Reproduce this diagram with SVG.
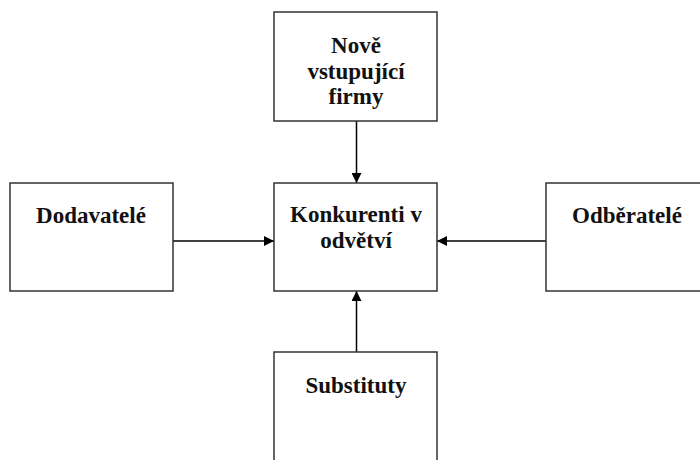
<svg xmlns="http://www.w3.org/2000/svg" width="700" height="460" viewBox="0 0 700 460">
<defs>
<style>
.box{fill:#fff;stroke:#333;stroke-width:1.5}
.t{font-family:"Liberation Serif","Times New Roman",serif;font-weight:bold;font-size:23px;fill:#111;text-anchor:middle}
.c{stroke:#000;stroke-width:1.5;fill:none;marker-end:url(#ah)}
</style>
<marker id="ah" viewBox="0 0 10 10" refX="10" refY="5" markerWidth="10" markerHeight="10" markerUnits="userSpaceOnUse" orient="auto">
<path d="M0,0 L10,5 L0,10 Z" fill="#000"/>
</marker>
</defs>
<rect width="700" height="460" fill="#fff"/>
<g id="connectors">
<line class="c" x1="356.5" y1="121" x2="356.5" y2="183"/>
<line class="c" x1="173" y1="241" x2="274" y2="241"/>
<line class="c" x1="546" y1="241" x2="437" y2="241"/>
<line class="c" x1="356.5" y1="352" x2="356.5" y2="291"/>
</g>
<g id="nove">
<rect class="box" x="274" y="12" width="163" height="109"/>
<text class="t" x="356" y="53">Nově</text>
<text class="t" x="356" y="79">vstupující</text>
<text class="t" x="356" y="104">firmy</text>
</g>
<g id="dodavatele">
<rect class="box" x="10" y="183" width="163" height="108"/>
<text class="t" x="91" y="223">Dodavatelé</text>
</g>
<g id="konkurenti">
<rect class="box" x="274" y="183" width="163" height="108"/>
<text class="t" x="356" y="222">Konkurenti v</text>
<text class="t" x="356" y="248">odvětví</text>
</g>
<g id="odberatele">
<rect class="box" x="546" y="183" width="163" height="108"/>
<text class="t" x="627" y="223">Odběratelé</text>
</g>
<g id="substituty">
<rect class="box" x="274" y="352" width="163" height="120"/>
<text class="t" x="356" y="393">Substituty</text>
</g>
</svg>
